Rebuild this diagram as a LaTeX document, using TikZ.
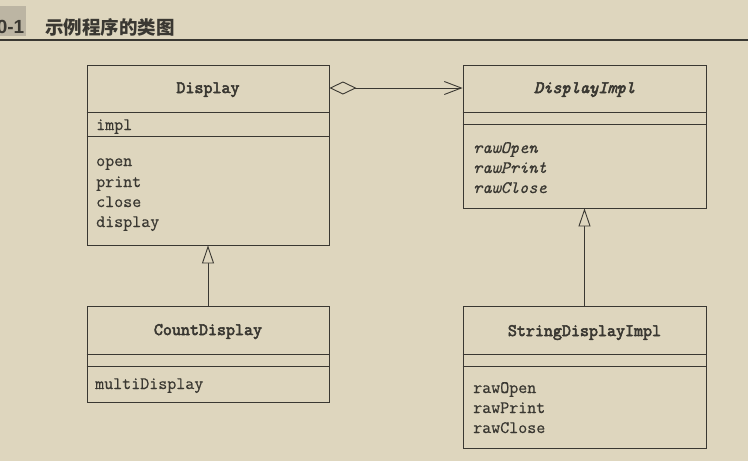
\documentclass[tikz,border=0pt]{standalone}
\usepackage{fontspec}
\newfontfamily\mreg{Latin Modern Mono}[FakeBold=0.6]
\newfontfamily\mbold{Latin Modern Mono}[FakeBold=3.2]
\newfontfamily\cjk{Noto Sans CJK SC}
\newfontfamily\tagfont{Liberation Sans}
\usetikzlibrary{arrows.meta}
\definecolor{bg}{RGB}{222,214,190}
\definecolor{ink}{RGB}{58,56,50}
\definecolor{tagbg}{RGB}{188,181,163}
\tikzset{
  classbox/.style={draw=ink, line width=0.9pt, inner sep=0pt},
  sep/.style={draw=ink, line width=0.9pt},
  cname/.style={anchor=base, inner sep=0pt, text=ink, font=\fontsize{17.5}{20}\selectfont\mbold},
  absname/.style={anchor=base, inner sep=0pt, text=ink, font=\fontsize{17.5}{20}\selectfont\mbold\itshape},
  member/.style={anchor=base west, inner sep=0pt, text=ink, font=\fontsize{17.5}{20}\selectfont\mreg},
  absmember/.style={anchor=base west, inner sep=0pt, text=ink, font=\fontsize{17.5}{20}\selectfont\mreg\itshape},
  link/.style={draw=ink, line width=0.9pt},
  inherit/.style={link, -{Triangle[length=18pt, width=12pt, fill=bg]}},
  aggreg/.style={link, {Diamond[length=27pt, width=13pt, fill=bg]}-{Straight Barb[length=17pt, width=13pt]}}
}
\begin{document}
\begin{tikzpicture}[x=1pt, y=-1pt]
\fill[bg] (0,0) rectangle (748,461);
\useasboundingbox (0,0) rectangle (748,461);

% header
\fill[tagbg] (0,6) rectangle (26,36);
\node[anchor=base east, inner sep=0pt, text=ink, font=\fontsize{19}{22}\selectfont\tagfont\bfseries] (tag) at (24.5,33) {0-1};
\node[anchor=base west, inner sep=0pt, text=ink, font=\fontsize{18.5}{22}\selectfont\cjk\bfseries] (title) at (45,34) {示例程序的类图};
\draw[ink, line width=1.2pt] (0,40) -- (748,40);

% boxes
\node[classbox, minimum width=242pt, minimum height=180pt] (display) at (208,155) {};
\node[classbox, minimum width=243pt, minimum height=143pt] (impl) at (584.5,136.5) {};
\node[classbox, minimum width=242pt, minimum height=96pt] (count) at (208,354) {};
\node[classbox, minimum width=243pt, minimum height=142pt] (sdi) at (584.5,377) {};

% compartments
\draw[sep] (display.west |- 0,112) -- (display.east |- 0,112);
\draw[sep] (display.west |- 0,136) -- (display.east |- 0,136);
\draw[sep] (impl.west |- 0,112) -- (impl.east |- 0,112);
\draw[sep] (impl.west |- 0,124) -- (impl.east |- 0,124);
\draw[sep] (count.west |- 0,354) -- (count.east |- 0,354);
\draw[sep] (count.west |- 0,366) -- (count.east |- 0,366);
\draw[sep] (sdi.west |- 0,354) -- (sdi.east |- 0,354);
\draw[sep] (sdi.west |- 0,366) -- (sdi.east |- 0,366);

% texts
\node[cname] (n1) at (208,93) {Display};
\node[member] (a1) at (96,130) {impl};
\node[member] (m11) at (96,166) {open};
\node[member] (m12) at (96,187) {print};
\node[member] (m13) at (96,207) {close};
\node[member] (m14) at (96,227) {display};

\node[absname] (n2) at (584.5,93) {DisplayImpl};
\node[absmember] (m21) at (473,153) {rawOpen};
\node[absmember] (m22) at (473,173) {rawPrint};
\node[absmember] (m23) at (473,193) {rawClose};

\node[cname] (n3) at (208,335) {CountDisplay};
\node[member] (m31) at (95,389) {multiDisplay};

\node[cname] (n4) at (584.5,336) {StringDisplayImpl};
\node[member] (m41) at (473,393) {rawOpen};
\node[member] (m42) at (473,413) {rawPrint};
\node[member] (m43) at (473,433) {rawClose};

% connectors
\draw[aggreg] (display.east |- 0,88) -- (impl.west |- 0,88);
\draw[inherit] (count.north) -- (display.south);
\draw[inherit] (sdi.north) -- (impl.south);
\end{tikzpicture}
\end{document}
